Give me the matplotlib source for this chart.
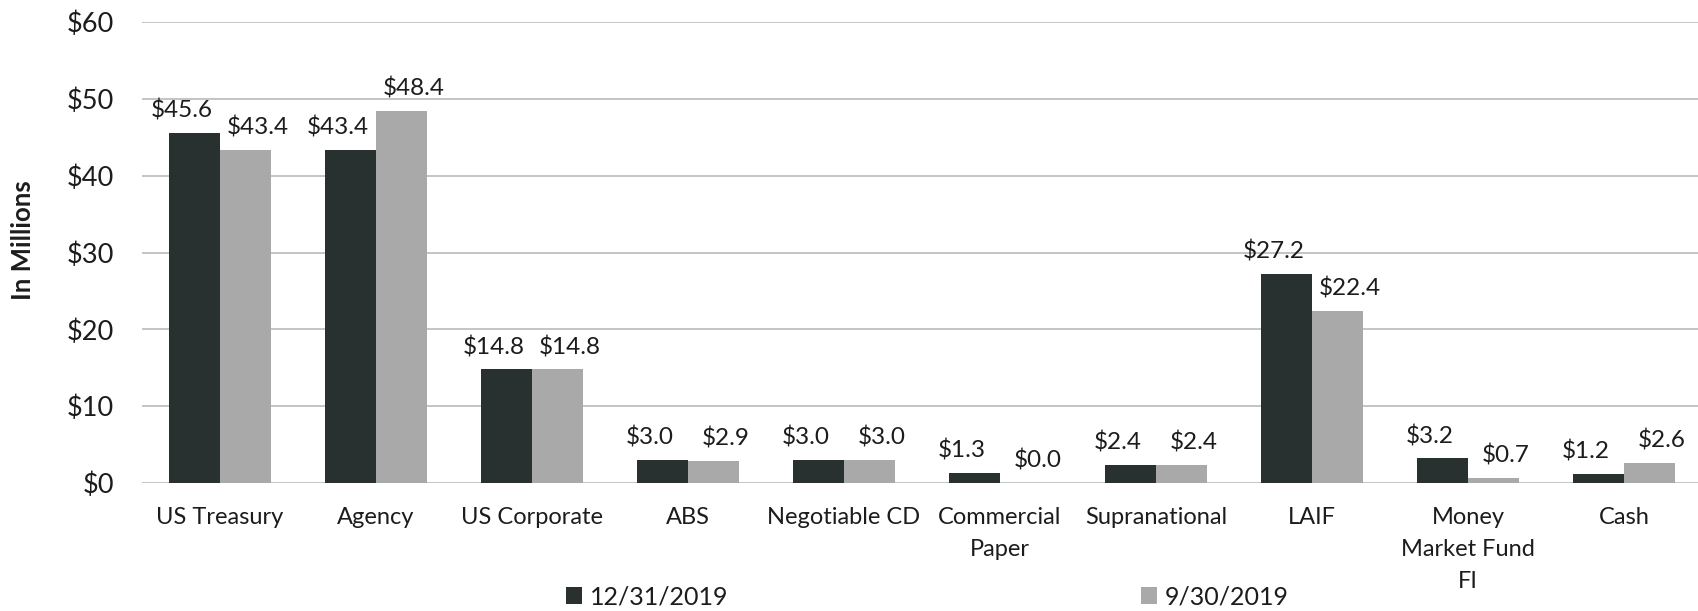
import matplotlib
matplotlib.use("Agg")
import matplotlib.pyplot as plt
import numpy as np

categories = ["US Treasury", "Agency", "US Corporate", "ABS", "Negotiable CD",
              "Commercial\nPaper", "Supranational", "LAIF",
              "Money\nMarket Fund\nFI", "Cash"]
dec_2019 = [45.6, 43.4, 14.8, 3.0, 3.0, 1.3, 2.4, 27.2, 3.2, 1.2]
sep_2019 = [43.4, 48.4, 14.8, 2.9, 3.0, 0.0, 2.4, 22.4, 0.7, 2.6]
series_names = ["12/31/2019", "9/30/2019"]
y_ticks = [0, 10, 20, 30, 40, 50, 60]

DARK = "#283030"
LIGHT = "#a9a9a9"
GRID = "#b4b4b4"
TEXT = "#1c1c1c"

plt.rcParams["font.family"] = ["Lato", "DejaVu Sans"]

fig = plt.figure(figsize=(16.99, 6.11), dpi=100)
ax = fig.add_axes([142 / 1699, 1 - 483 / 611, 1560 / 1699, (483 - 22) / 611])

x = np.arange(len(categories))
w = 0.327
b1 = ax.bar(x - w / 2, dec_2019, w, color=DARK, label=series_names[0], zorder=3)
b2 = ax.bar(x + w / 2, sep_2019, w, color=LIGHT, label=series_names[1], zorder=3)

# value labels sit above each bar, nudged outward from the pair's centre
for bars, vals, dx in ((b1, dec_2019, -9), (b2, sep_2019, 9)):
    for rect, v in zip(bars, vals):
        ax.annotate(f"${v:.1f}", (rect.get_x() + rect.get_width() / 2, v),
                    xytext=(dx, 16), textcoords="offset points",
                    ha="center", va="center", fontsize=17.5, color=TEXT, zorder=4)

ax.set_xlim(-0.5, len(categories) - 0.5)
ax.set_ylim(0, 60)
ax.set_yticks(y_ticks)
ax.set_yticklabels([f"${t}" for t in y_ticks])
ax.yaxis.grid(True, color=GRID, linewidth=1.1, zorder=0)
ax.set_axisbelow(True)
for s in ax.spines.values():
    s.set_visible(False)
ax.tick_params(axis="y", length=0, pad=20, labelsize=19.5, labelcolor=TEXT)
ax.tick_params(axis="x", length=0, pad=17, labelsize=17, labelcolor=TEXT)
ax.set_xticks(x)
ax.set_xticklabels(categories, linespacing=1.65, va="top")

fig.text(23 / 1699, 1 - 240 / 611, "In Millions", rotation=90, ha="center",
         va="center", fontsize=18.5, fontweight="bold", color=TEXT)

leg = fig.legend(handles=[b1, b2], loc="center", bbox_to_anchor=(927 / 1699, 1 - 597 / 611),
                 ncol=2, frameon=False, fontsize=18, handlelength=0.65, handleheight=0.65,
                 handletextpad=0.3, columnspacing=16.5, borderpad=0, labelcolor=TEXT)

fig.savefig("out.png", dpi=100)
